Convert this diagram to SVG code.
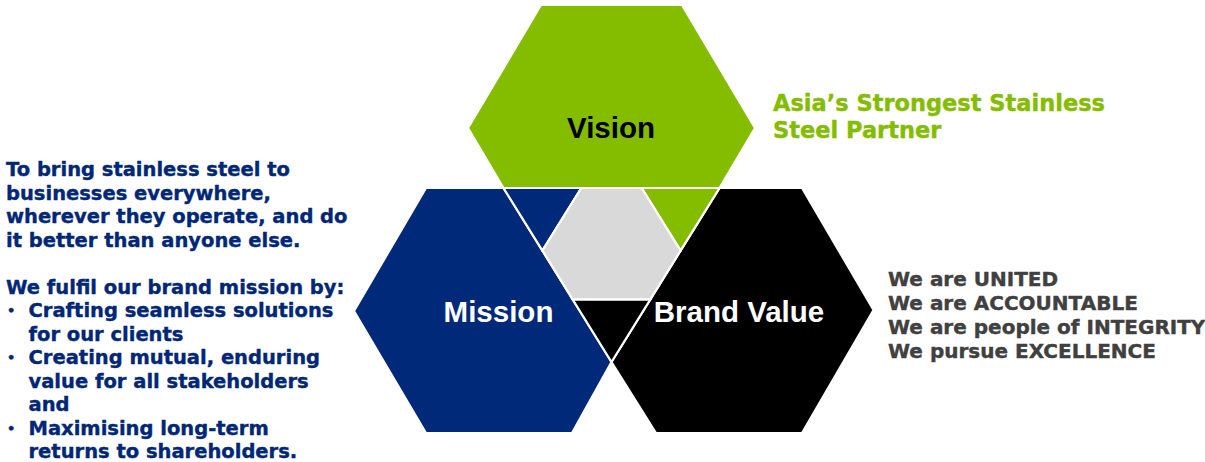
<svg xmlns="http://www.w3.org/2000/svg" width="1205" height="462" viewBox="0 0 1205 462">
  <style>
    .piece { stroke: #ffffff; stroke-width: 2.2; stroke-linejoin: miter; }
    .green { fill: #84bd00; }
    .navy { fill: #00297a; }
    .black { fill: #000000; }
    .grey { fill: #d9d9d9; }
    .title { font-family: "Liberation Sans", Arial, sans-serif; font-weight: bold; font-size: 29.5px; }
    .body { font-family: "DejaVu Sans", Verdana, sans-serif; font-weight: bold; stroke-width: 0.4; }
    .mission-text { fill: #002776; stroke: #002776; font-size: 19.5px; }
    .vision-text { fill: #84bd00; stroke: #84bd00; font-size: 22.5px; }
    .values-text { fill: #404040; stroke: #404040; font-size: 20px; }
    .bullet { font-size: 13px; }
  </style>

  <!-- Vision hexagon (upper body) -->
  <g id="vision">
    <polygon class="piece green" points="541,5 682,5 755,128 719.5,188 503.5,188 468,128"/>
    <text class="title" x="611" y="138" text-anchor="middle" fill="#000000">Vision</text>
  </g>

  <!-- Mission hexagon -->
  <g id="mission">
    <polygon class="piece navy" points="426,188 503.5,188 611.5,362 572,433 426,433 354,311"/>
    <text class="title" x="498.5" y="322" text-anchor="middle" fill="#ffffff">Mission</text>
  </g>

  <!-- Brand Value hexagon -->
  <g id="brand-value">
    <polygon class="piece black" points="719.5,188 802,188 873.5,310 802,433 656,433 611.5,362"/>
    <text class="title" x="739" y="322" text-anchor="middle" fill="#ffffff">Brand Value</text>
  </g>

  <!-- Overlap zone: three corner triangles around a shared grey centre -->
  <g id="overlap">
    <polygon class="piece navy" points="503.5,188 581.3,188 542.4,250.6"/>
    <polygon class="piece green" points="641.7,188 719.5,188 680.6,250.6"/>
    <polygon class="piece black" points="572.6,299.4 650.4,299.4 611.5,362"/>
    <polygon class="piece grey" points="581.3,188 641.7,188 680.6,250.6 650.4,299.4 572.6,299.4 542.4,250.6"/>
  </g>

  <!-- Vision statement -->
  <g id="vision-statement" class="body vision-text">
    <text x="773" y="111">Asia’s Strongest Stainless</text>
    <text x="773" y="138">Steel Partner</text>
  </g>

  <!-- Mission statement -->
  <g id="mission-statement" class="body mission-text">
    <text x="6" y="176">To bring stainless steel to</text>
    <text x="6" y="199.5">businesses everywhere,</text>
    <text x="6" y="223">wherever they operate, and do</text>
    <text x="6" y="246.5">it better than anyone else.</text>
    <text x="6" y="293.5">We fulfil our brand mission by:</text>
    <text class="bullet" x="7" y="315">•</text>
    <text x="28.5" y="317">Crafting seamless solutions</text>
    <text x="28.5" y="340.5">for our clients</text>
    <text class="bullet" x="7" y="362">•</text>
    <text x="28.5" y="364">Creating mutual, enduring</text>
    <text x="28.5" y="387.5">value for all stakeholders</text>
    <text x="28.5" y="411">and</text>
    <text class="bullet" x="7" y="432.5">•</text>
    <text x="28.5" y="434.5">Maximising long-term</text>
    <text x="28.5" y="458">returns to shareholders.</text>
  </g>

  <!-- Brand values -->
  <g id="values" class="body values-text">
    <text x="888" y="286">We are UNITED</text>
    <text x="888" y="310">We are ACCOUNTABLE</text>
    <text x="888" y="334">We are people of INTEGRITY</text>
    <text x="888" y="358">We pursue EXCELLENCE</text>
  </g>
</svg>
